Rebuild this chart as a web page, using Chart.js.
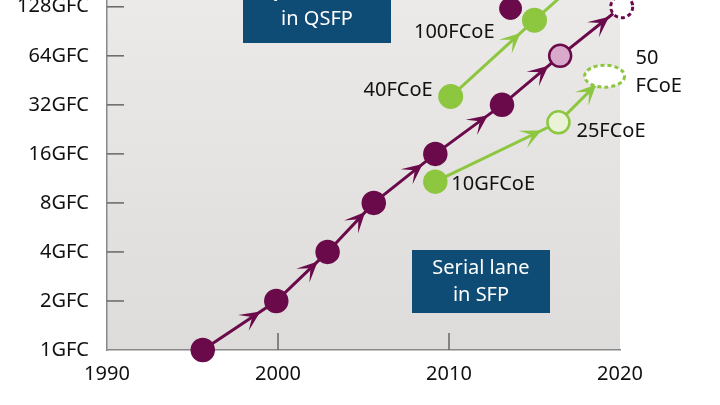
<!DOCTYPE html>
<html>
<head>
<meta charset="utf-8">
<script src="https://cdn.jsdelivr.net/npm/chart.js@4/dist/chart.umd.min.js"></script>
<style>
  html, body { margin: 0; padding: 0; background: #fff; }
  #clip { width: 720px; height: 405px; overflow: hidden; position: relative; }
  #wrap { width: 720px; height: 430px; position: absolute; top: -25px; left: 0; }
</style>
</head>
<body>
<div id="clip"><div id="wrap"><canvas id="chart"></canvas></div></div>
<script>
// Data
const yTickValues = [1, 2, 4, 8, 16, 32, 64, 128];
const yTickLabels = ["1GFC", "2GFC", "4GFC", "8GFC", "16GFC", "32GFC", "64GFC", "128GFC"];
const xTickValues = [1990, 2000, 2010, 2020];

// serial FC chain (year, speed)
const fcYears = [1995.6, 1999.9, 2002.9, 2005.6, 2009.2, 2013.1, 2016.5, 2020.1];
const fcSpeeds = [1, 2, 4, 8, 16, 32, 64, 128];
// quad lane 128GFC (top, cut off)
const quadYears = [2013.6];
const quadSpeeds = [125];
// FCoE serial chain
const fcoeYears = [2009.2, 2016.4, 2019.1];
const fcoeSpeeds = [10.8, 25, 48];
// FCoE quad chain
const fcoeQuadYears = [2010.1, 2015.0, 2018.6];
const fcoeQuadSpeeds = [36, 106, 230];

const PURPLE = "#6a0a4a";
const GREEN = "#8dc63f";
const FONT = "'Noto Sans'";

const pts = (xs, ys) => xs.map((x, i) => ({ x: x, y: ys[i] }));

// arrow heads along each segment, plus axis ticks, dashed markers and labels
const extras = {
  id: "extras",
  afterDatasetsDraw(chart) {
    const { ctx, scales: { x, y }, chartArea: a } = chart;
    ctx.save();
    ctx.beginPath();
    ctx.rect(a.left - 30, 0, a.right - a.left + 60, a.bottom);
    ctx.clip();
    const arrows = (xs, ys, color, upto) => {
      for (let i = 0; i < upto; i++) {
        const x0 = x.getPixelForValue(xs[i]), y0 = y.getPixelForValue(ys[i]);
        const x1 = x.getPixelForValue(xs[i + 1]), y1 = y.getPixelForValue(ys[i + 1]);
        const ang = Math.atan2(y1 - y0, x1 - x0);
        const len = Math.hypot(x1 - x0, y1 - y0);
        const back = Math.min(len * 0.32, 28);
        const tx = x1 - Math.cos(ang) * back, ty = y1 - Math.sin(ang) * back;
        ctx.fillStyle = color;
        ctx.beginPath();
        ctx.moveTo(tx + Math.cos(ang) * 9, ty + Math.sin(ang) * 9);
        ctx.lineTo(tx + Math.cos(ang + 2.45) * 15, ty + Math.sin(ang + 2.45) * 15);
        ctx.lineTo(tx + Math.cos(ang) * -1, ty + Math.sin(ang) * -1);
        ctx.lineTo(tx + Math.cos(ang - 2.45) * 15, ty + Math.sin(ang - 2.45) * 15);
        ctx.closePath();
        ctx.fill();
      }
    };
    arrows(fcYears, fcSpeeds, PURPLE, fcYears.length - 1);
    arrows(fcoeYears, fcoeSpeeds, GREEN, fcoeYears.length - 1);
    arrows(fcoeQuadYears, fcoeQuadSpeeds, GREEN, 1);

    // dashed markers
    ctx.setLineDash([4, 3]);
    ctx.lineWidth = 3;
    let px = x.getPixelForValue(fcYears[7]), py = y.getPixelForValue(fcSpeeds[7]);
    ctx.fillStyle = "#fff"; ctx.strokeStyle = PURPLE;
    ctx.beginPath(); ctx.arc(px, py, 11, 0, Math.PI * 2); ctx.fill(); ctx.stroke();
    px = x.getPixelForValue(fcoeYears[2]); py = y.getPixelForValue(fcoeSpeeds[2]);
    ctx.strokeStyle = GREEN;
    ctx.beginPath(); ctx.ellipse(px, py, 20, 11, 0, 0, Math.PI * 2); ctx.fill(); ctx.stroke();
    ctx.setLineDash([]);
    ctx.restore();

    // tick marks inside the plot
    ctx.save();
    ctx.strokeStyle = "#666"; ctx.lineWidth = 1.5;
    yTickValues.slice(1).forEach(v => {
      const yy = y.getPixelForValue(v);
      ctx.beginPath(); ctx.moveTo(a.left, yy); ctx.lineTo(a.left + 17, yy); ctx.stroke();
    });
    xTickValues.slice(1, 3).forEach(v => {
      const xx = x.getPixelForValue(v);
      ctx.beginPath(); ctx.moveTo(xx, a.bottom); ctx.lineTo(xx, a.bottom - 17); ctx.stroke();
    });

    // labels
    ctx.font = "20px " + FONT;
    ctx.fillStyle = "#111";
    ctx.textBaseline = "middle";
    const lab = (txt, xv, yv, dx, dy, align) => {
      ctx.textAlign = align;
      ctx.fillText(txt, x.getPixelForValue(xv) + dx, y.getPixelForValue(yv) + dy);
    };
    lab("100FCoE", fcoeQuadYears[1], fcoeQuadSpeeds[1], -40, 12, "right");
    lab("40FCoE", fcoeQuadYears[0], fcoeQuadSpeeds[0], -18, -6, "right");
    lab("10GFCoE", fcoeYears[0], fcoeSpeeds[0], 16, 3, "left");
    lab("25FCoE", fcoeYears[1], fcoeSpeeds[1], 18, 9, "left");
    lab("50", fcoeYears[2], fcoeSpeeds[2], 31, -18, "left");
    lab("FCoE", fcoeYears[2], fcoeSpeeds[2], 31, 10, "left");

    // boxes (canvas is shifted up 25px)
    const box = (bx, by, w, h, lines) => {
      ctx.fillStyle = "#0f4c75";
      ctx.fillRect(bx, by + 25, w, h);
      ctx.fillStyle = "#fff";
      ctx.textAlign = "center";
      lines.forEach((t, i) => ctx.fillText(t, bx + w / 2, by + 25 + 18 + i * 27));
    };
    box(243, -26, 148, 69, ["Quad lanes", "in QSFP"]);
    box(412, 250, 138, 63, ["Serial lane", "in SFP"]);
    ctx.restore();
  }
};

// plot background gradient
const bg = {
  id: "bg",
  beforeDraw(chart) {
    const { ctx, chartArea: a } = chart;
    const g = ctx.createLinearGradient(0, a.bottom, 0, 0);
    g.addColorStop(0, "#dddcda");
    g.addColorStop(1, "#ecebe9");
    ctx.fillStyle = g;
    ctx.fillRect(a.left, 0, a.right - a.left, a.bottom);
  }
};

new Chart(document.getElementById("chart"), {
  type: "scatter",
  data: {
    datasets: [
      {
        data: pts(fcYears, fcSpeeds),
        showLine: true, borderColor: PURPLE, borderWidth: 3,
        backgroundColor: fcSpeeds.map((v, i) => i === 6 ? "#d9a9cc" : i === 7 ? "rgba(0,0,0,0)" : PURPLE),
        pointBorderColor: fcSpeeds.map((v, i) => i === 7 ? "rgba(0,0,0,0)" : PURPLE),
        pointBorderWidth: 2.5, pointRadius: 11
      },
      {
        data: pts(quadYears, quadSpeeds),
        backgroundColor: PURPLE, borderColor: PURPLE, pointRadius: 11
      },
      {
        data: pts(fcoeYears, fcoeSpeeds),
        showLine: true, borderColor: GREEN, borderWidth: 3,
        backgroundColor: ["#8dc63f", "#eaf3d8", "rgba(0,0,0,0)"],
        pointBorderColor: [GREEN, GREEN, "rgba(0,0,0,0)"],
        pointBorderWidth: 2.5, pointRadius: 11
      },
      {
        data: pts(fcoeQuadYears, fcoeQuadSpeeds),
        showLine: true, borderColor: GREEN, borderWidth: 3,
        backgroundColor: GREEN, pointBorderColor: GREEN, pointRadius: 11
      }
    ]
  },
  options: {
    responsive: true,
    maintainAspectRatio: false,
    animation: false,
    clip: { left: 20, right: 20, top: 30, bottom: 20 },
    layout: { padding: { top: 0, right: 100, left: 0, bottom: 0 } },
    plugins: { legend: { display: false }, tooltip: { enabled: false } },
    scales: {
      x: {
        type: "linear", min: 1990, max: 2020,
        afterBuildTicks: s => { s.ticks = xTickValues.map(v => ({ value: v })); },
        afterFit: s => { s.height = 55; },
        grid: { display: false },
        border: { color: "#888", width: 1.5 },
        ticks: {
          color: "#111", font: { family: "Noto Sans", size: 20 }, padding: 4, maxRotation: 0,
          callback: v => String(v)
        }
      },
      y: {
        type: "logarithmic", min: 1, max: 147,
        afterBuildTicks: s => { s.ticks = yTickValues.map(v => ({ value: v })); },
        afterFit: s => { s.width = 107; },
        grid: { display: false },
        border: { color: "#888", width: 1.5 },
        ticks: {
          color: "#111", font: { family: "Noto Sans", size: 20 }, padding: 10,
          callback: v => yTickLabels[yTickValues.indexOf(v)]
        }
      }
    }
  },
  plugins: [bg, extras]
});
</script>
</body>
</html>
